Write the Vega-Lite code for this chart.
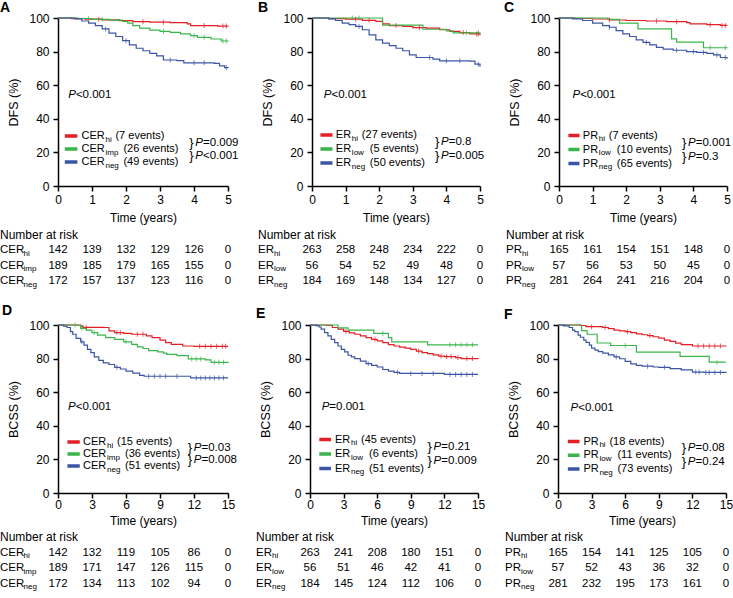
{
"$schema":"https://vega.github.io/schema/vega-lite/v6.json",
"padding":{"left":0,"top":1,"right":0,"bottom":0},
"background":"white",
"config":{"font":"Liberation Sans","view":{"stroke":null},
"axis":{"domainColor":"#000","domainWidth":1.5,"tickColor":"#000","tickWidth":1.5,"tickSize":5,"labelColor":"#000","labelFontSize":12,"titleColor":"#000","titleFontSize":12,"titleFontWeight":"normal","grid":false,"labelFlush":false,"labelOverlap":false},
"axisY":{"labelPadding":4,"titlePadding":8,"titleFontSize":12.5},
"text":{"fontSize":11,"color":"#000"},
"tick":{"orient":"vertical","size":5,"thickness":1}},
"datasets":{
"km":[
{"p":"A","g":"hi","t":0,"s":100},{"p":"A","g":"hi","t":0.4,"s":99.6},{"p":"A","g":"hi","t":0.8,"s":99.3},{"p":"A","g":"hi","t":1.3,"s":98.9},{"p":"A","g":"hi","t":1.8,"s":98.4},{"p":"A","g":"hi","t":2.2,"s":97.8},{"p":"A","g":"hi","t":2.7,"s":97.5},{"p":"A","g":"hi","t":3.3,"s":97.2},{"p":"A","g":"hi","t":3.8,"s":96.5},{"p":"A","g":"hi","t":3.9,"s":95.5},{"p":"A","g":"hi","t":4.7,"s":95.2},{"p":"A","g":"hi","t":5,"s":95},
{"p":"A","g":"mid","t":0,"s":100},{"p":"A","g":"mid","t":0.6,"s":99.7},{"p":"A","g":"mid","t":1.0,"s":99.2},{"p":"A","g":"mid","t":1.5,"s":98.7},{"p":"A","g":"mid","t":1.9,"s":98},{"p":"A","g":"mid","t":2.05,"s":97},{"p":"A","g":"mid","t":2.2,"s":95.5},{"p":"A","g":"mid","t":2.4,"s":94},{"p":"A","g":"mid","t":2.7,"s":92.8},{"p":"A","g":"mid","t":3.0,"s":92},{"p":"A","g":"mid","t":3.3,"s":91.5},{"p":"A","g":"mid","t":3.6,"s":90.5},{"p":"A","g":"mid","t":3.9,"s":89.5},{"p":"A","g":"mid","t":4.1,"s":88.5},{"p":"A","g":"mid","t":4.5,"s":87.5},{"p":"A","g":"mid","t":4.8,"s":86.3},{"p":"A","g":"mid","t":5,"s":86},
{"p":"A","g":"neg","t":0,"s":100},{"p":"A","g":"neg","t":0.5,"s":99.5},{"p":"A","g":"neg","t":0.7,"s":98.2},{"p":"A","g":"neg","t":0.9,"s":97},{"p":"A","g":"neg","t":1.1,"s":95.5},{"p":"A","g":"neg","t":1.3,"s":93.5},{"p":"A","g":"neg","t":1.5,"s":91},{"p":"A","g":"neg","t":1.7,"s":89},{"p":"A","g":"neg","t":1.9,"s":86.5},{"p":"A","g":"neg","t":2.1,"s":84},{"p":"A","g":"neg","t":2.3,"s":82},{"p":"A","g":"neg","t":2.5,"s":80.5},{"p":"A","g":"neg","t":2.7,"s":79},{"p":"A","g":"neg","t":2.9,"s":77.5},{"p":"A","g":"neg","t":3.1,"s":75},{"p":"A","g":"neg","t":3.5,"s":74.6},{"p":"A","g":"neg","t":3.7,"s":73.3},{"p":"A","g":"neg","t":4.6,"s":73},{"p":"A","g":"neg","t":4.75,"s":71.5},{"p":"A","g":"neg","t":4.9,"s":70.5},{"p":"A","g":"neg","t":5,"s":70.2},
{"p":"B","g":"hi","t":0,"s":100},{"p":"B","g":"hi","t":0.5,"s":99.6},{"p":"B","g":"hi","t":1.0,"s":99.3},{"p":"B","g":"hi","t":1.5,"s":98.6},{"p":"B","g":"hi","t":1.9,"s":98},{"p":"B","g":"hi","t":2.1,"s":96.5},{"p":"B","g":"hi","t":2.3,"s":95.5},{"p":"B","g":"hi","t":2.7,"s":95},{"p":"B","g":"hi","t":3.0,"s":94.3},{"p":"B","g":"hi","t":3.4,"s":94},{"p":"B","g":"hi","t":3.8,"s":93},{"p":"B","g":"hi","t":4.1,"s":92},{"p":"B","g":"hi","t":4.4,"s":91.3},{"p":"B","g":"hi","t":4.7,"s":90.5},{"p":"B","g":"hi","t":5,"s":89.7},
{"p":"B","g":"mid","t":0,"s":100},{"p":"B","g":"mid","t":2.1,"s":95.8},{"p":"B","g":"mid","t":3.3,"s":93.3},{"p":"B","g":"mid","t":4.0,"s":92.3},{"p":"B","g":"mid","t":4.2,"s":91.2},{"p":"B","g":"mid","t":5,"s":91},
{"p":"B","g":"neg","t":0,"s":100},{"p":"B","g":"neg","t":0.5,"s":99.5},{"p":"B","g":"neg","t":0.7,"s":98.5},{"p":"B","g":"neg","t":0.9,"s":97},{"p":"B","g":"neg","t":1.1,"s":96},{"p":"B","g":"neg","t":1.3,"s":95},{"p":"B","g":"neg","t":1.5,"s":93},{"p":"B","g":"neg","t":1.7,"s":90},{"p":"B","g":"neg","t":1.9,"s":87},{"p":"B","g":"neg","t":2.1,"s":85},{"p":"B","g":"neg","t":2.3,"s":83.5},{"p":"B","g":"neg","t":2.5,"s":82},{"p":"B","g":"neg","t":2.7,"s":80.5},{"p":"B","g":"neg","t":2.9,"s":78},{"p":"B","g":"neg","t":3.1,"s":76.5},{"p":"B","g":"neg","t":3.6,"s":75.5},{"p":"B","g":"neg","t":3.8,"s":74.5},{"p":"B","g":"neg","t":4.7,"s":74.3},{"p":"B","g":"neg","t":4.85,"s":72.5},{"p":"B","g":"neg","t":5,"s":71},
{"p":"C","g":"hi","t":0,"s":100},{"p":"C","g":"hi","t":0.5,"s":99.7},{"p":"C","g":"hi","t":1.0,"s":99.4},{"p":"C","g":"hi","t":1.5,"s":98.8},{"p":"C","g":"hi","t":2.0,"s":98.5},{"p":"C","g":"hi","t":2.6,"s":98.2},{"p":"C","g":"hi","t":3.2,"s":97.8},{"p":"C","g":"hi","t":3.8,"s":97.3},{"p":"C","g":"hi","t":3.9,"s":96.5},{"p":"C","g":"hi","t":4.4,"s":96},{"p":"C","g":"hi","t":4.8,"s":95.6},{"p":"C","g":"hi","t":5,"s":95.5},
{"p":"C","g":"mid","t":0,"s":100},{"p":"C","g":"mid","t":1.45,"s":99.2},{"p":"C","g":"mid","t":1.8,"s":97},{"p":"C","g":"mid","t":2.35,"s":93.5},{"p":"C","g":"mid","t":3.35,"s":87.6},{"p":"C","g":"mid","t":3.5,"s":85.6},{"p":"C","g":"mid","t":4.3,"s":82.3},{"p":"C","g":"mid","t":5,"s":82},
{"p":"C","g":"neg","t":0,"s":100},{"p":"C","g":"neg","t":0.4,"s":99.5},{"p":"C","g":"neg","t":0.7,"s":98.5},{"p":"C","g":"neg","t":1.0,"s":97},{"p":"C","g":"neg","t":1.3,"s":95.5},{"p":"C","g":"neg","t":1.5,"s":94.5},{"p":"C","g":"neg","t":1.7,"s":92.5},{"p":"C","g":"neg","t":1.9,"s":90.5},{"p":"C","g":"neg","t":2.1,"s":89},{"p":"C","g":"neg","t":2.3,"s":87},{"p":"C","g":"neg","t":2.5,"s":85.5},{"p":"C","g":"neg","t":2.7,"s":84},{"p":"C","g":"neg","t":2.9,"s":82.5},{"p":"C","g":"neg","t":3.1,"s":81.5},{"p":"C","g":"neg","t":3.4,"s":80.8},{"p":"C","g":"neg","t":3.8,"s":80},{"p":"C","g":"neg","t":4.1,"s":79.5},{"p":"C","g":"neg","t":4.4,"s":79},{"p":"C","g":"neg","t":4.6,"s":78},{"p":"C","g":"neg","t":4.8,"s":76.5},{"p":"C","g":"neg","t":5,"s":75.8},
{"p":"D","g":"hi","t":0,"s":100},{"p":"D","g":"hi","t":2.0,"s":99.5},{"p":"D","g":"hi","t":2.2,"s":98.6},{"p":"D","g":"hi","t":4.0,"s":98.5},{"p":"D","g":"hi","t":4.5,"s":96.5},{"p":"D","g":"hi","t":5.0,"s":95.5},{"p":"D","g":"hi","t":5.8,"s":95},{"p":"D","g":"hi","t":6.5,"s":94.5},{"p":"D","g":"hi","t":7.8,"s":93.5},{"p":"D","g":"hi","t":8.3,"s":92.5},{"p":"D","g":"hi","t":9.0,"s":91},{"p":"D","g":"hi","t":9.5,"s":89.5},{"p":"D","g":"hi","t":10.0,"s":88.5},{"p":"D","g":"hi","t":11.0,"s":87.5},{"p":"D","g":"hi","t":12,"s":87.3},{"p":"D","g":"hi","t":15,"s":87.3},
{"p":"D","g":"mid","t":0,"s":100},{"p":"D","g":"mid","t":1.8,"s":99.7},{"p":"D","g":"mid","t":2.0,"s":98},{"p":"D","g":"mid","t":2.5,"s":97},{"p":"D","g":"mid","t":3.0,"s":95.5},{"p":"D","g":"mid","t":3.5,"s":94},{"p":"D","g":"mid","t":4.2,"s":92.5},{"p":"D","g":"mid","t":5.0,"s":91.5},{"p":"D","g":"mid","t":5.8,"s":90},{"p":"D","g":"mid","t":6.5,"s":88.5},{"p":"D","g":"mid","t":7.0,"s":87},{"p":"D","g":"mid","t":7.5,"s":86},{"p":"D","g":"mid","t":8.0,"s":84.8},{"p":"D","g":"mid","t":8.8,"s":84},{"p":"D","g":"mid","t":9.3,"s":83.2},{"p":"D","g":"mid","t":9.6,"s":82.5},{"p":"D","g":"mid","t":10.5,"s":81.8},{"p":"D","g":"mid","t":11.5,"s":79.8},{"p":"D","g":"mid","t":13.0,"s":79.3},{"p":"D","g":"mid","t":13.5,"s":77.8},{"p":"D","g":"mid","t":15,"s":77.3},
{"p":"D","g":"neg","t":0,"s":100},{"p":"D","g":"neg","t":0.5,"s":99.3},{"p":"D","g":"neg","t":0.8,"s":98.5},{"p":"D","g":"neg","t":1.1,"s":96},{"p":"D","g":"neg","t":1.3,"s":94.5},{"p":"D","g":"neg","t":1.6,"s":92},{"p":"D","g":"neg","t":2.0,"s":90},{"p":"D","g":"neg","t":2.3,"s":88},{"p":"D","g":"neg","t":2.6,"s":85.5},{"p":"D","g":"neg","t":2.9,"s":83.5},{"p":"D","g":"neg","t":3.2,"s":81},{"p":"D","g":"neg","t":3.6,"s":79},{"p":"D","g":"neg","t":4.0,"s":77.5},{"p":"D","g":"neg","t":4.5,"s":76.5},{"p":"D","g":"neg","t":5.0,"s":74.8},{"p":"D","g":"neg","t":5.5,"s":73.8},{"p":"D","g":"neg","t":6.0,"s":72.5},{"p":"D","g":"neg","t":6.6,"s":71.3},{"p":"D","g":"neg","t":7.2,"s":70},{"p":"D","g":"neg","t":7.6,"s":69.5},{"p":"D","g":"neg","t":11.7,"s":68.5},{"p":"D","g":"neg","t":15,"s":68.5},
{"p":"E","g":"hi","t":0,"s":100},{"p":"E","g":"hi","t":1.5,"s":99.8},{"p":"E","g":"hi","t":2.0,"s":98.5},{"p":"E","g":"hi","t":2.5,"s":97.5},{"p":"E","g":"hi","t":3.0,"s":96.2},{"p":"E","g":"hi","t":3.5,"s":95.3},{"p":"E","g":"hi","t":4.0,"s":94.5},{"p":"E","g":"hi","t":4.5,"s":93.5},{"p":"E","g":"hi","t":5.0,"s":92.5},{"p":"E","g":"hi","t":5.5,"s":91.5},{"p":"E","g":"hi","t":6.0,"s":90.5},{"p":"E","g":"hi","t":6.5,"s":89.5},{"p":"E","g":"hi","t":7.0,"s":88.3},{"p":"E","g":"hi","t":7.5,"s":87.5},{"p":"E","g":"hi","t":8.0,"s":86.8},{"p":"E","g":"hi","t":8.5,"s":86.2},{"p":"E","g":"hi","t":9.0,"s":85.5},{"p":"E","g":"hi","t":9.5,"s":84.5},{"p":"E","g":"hi","t":10.0,"s":83.6},{"p":"E","g":"hi","t":10.5,"s":83},{"p":"E","g":"hi","t":11.0,"s":82.2},{"p":"E","g":"hi","t":11.5,"s":81.5},{"p":"E","g":"hi","t":12.0,"s":81.2},{"p":"E","g":"hi","t":13.0,"s":80.6},{"p":"E","g":"hi","t":13.5,"s":80},{"p":"E","g":"hi","t":15,"s":79.8},
{"p":"E","g":"mid","t":0,"s":100},{"p":"E","g":"mid","t":2.5,"s":98.3},{"p":"E","g":"mid","t":3.4,"s":97},{"p":"E","g":"mid","t":5.7,"s":95},{"p":"E","g":"mid","t":7.0,"s":92.5},{"p":"E","g":"mid","t":7.3,"s":90},{"p":"E","g":"mid","t":10.5,"s":88.2},{"p":"E","g":"mid","t":15,"s":88.2},
{"p":"E","g":"neg","t":0,"s":100},{"p":"E","g":"neg","t":0.5,"s":99.6},{"p":"E","g":"neg","t":0.8,"s":98.8},{"p":"E","g":"neg","t":1.0,"s":97.5},{"p":"E","g":"neg","t":1.3,"s":95.5},{"p":"E","g":"neg","t":1.6,"s":93.5},{"p":"E","g":"neg","t":1.9,"s":91.5},{"p":"E","g":"neg","t":2.2,"s":89.5},{"p":"E","g":"neg","t":2.5,"s":87.5},{"p":"E","g":"neg","t":2.8,"s":85.5},{"p":"E","g":"neg","t":3.1,"s":84},{"p":"E","g":"neg","t":3.4,"s":82},{"p":"E","g":"neg","t":3.7,"s":81},{"p":"E","g":"neg","t":4.0,"s":80},{"p":"E","g":"neg","t":4.5,"s":78.5},{"p":"E","g":"neg","t":5.0,"s":77},{"p":"E","g":"neg","t":5.5,"s":76},{"p":"E","g":"neg","t":6.0,"s":75},{"p":"E","g":"neg","t":6.5,"s":73.5},{"p":"E","g":"neg","t":7.0,"s":72.5},{"p":"E","g":"neg","t":7.5,"s":71.8},{"p":"E","g":"neg","t":8.0,"s":71.2},{"p":"E","g":"neg","t":12,"s":70.6},{"p":"E","g":"neg","t":15,"s":70.6},
{"p":"F","g":"hi","t":0,"s":100},{"p":"F","g":"hi","t":2.0,"s":99.7},{"p":"F","g":"hi","t":2.5,"s":99},{"p":"F","g":"hi","t":4.0,"s":98.5},{"p":"F","g":"hi","t":4.5,"s":97.8},{"p":"F","g":"hi","t":5.0,"s":97},{"p":"F","g":"hi","t":5.5,"s":96.5},{"p":"F","g":"hi","t":6.0,"s":96},{"p":"F","g":"hi","t":6.5,"s":95.5},{"p":"F","g":"hi","t":7.0,"s":94.7},{"p":"F","g":"hi","t":7.5,"s":94.2},{"p":"F","g":"hi","t":8.0,"s":93.7},{"p":"F","g":"hi","t":8.5,"s":93},{"p":"F","g":"hi","t":9.0,"s":92.2},{"p":"F","g":"hi","t":9.5,"s":91},{"p":"F","g":"hi","t":10.0,"s":90.2},{"p":"F","g":"hi","t":10.5,"s":89.2},{"p":"F","g":"hi","t":11.0,"s":88.3},{"p":"F","g":"hi","t":12.0,"s":87.5},{"p":"F","g":"hi","t":15,"s":87.3},
{"p":"F","g":"mid","t":0,"s":100},{"p":"F","g":"mid","t":2.1,"s":96.6},{"p":"F","g":"mid","t":2.6,"s":94.5},{"p":"F","g":"mid","t":3.5,"s":89.3},{"p":"F","g":"mid","t":4.7,"s":87.8},{"p":"F","g":"mid","t":7.0,"s":83.8},{"p":"F","g":"mid","t":10.9,"s":81.3},{"p":"F","g":"mid","t":13.5,"s":77.9},{"p":"F","g":"mid","t":15,"s":77.9},
{"p":"F","g":"neg","t":0,"s":100},{"p":"F","g":"neg","t":0.5,"s":99.5},{"p":"F","g":"neg","t":1.0,"s":98.5},{"p":"F","g":"neg","t":1.3,"s":97},{"p":"F","g":"neg","t":1.5,"s":96},{"p":"F","g":"neg","t":1.8,"s":94},{"p":"F","g":"neg","t":2.0,"s":92.7},{"p":"F","g":"neg","t":2.3,"s":91},{"p":"F","g":"neg","t":2.5,"s":89.7},{"p":"F","g":"neg","t":2.8,"s":88},{"p":"F","g":"neg","t":3.0,"s":86.2},{"p":"F","g":"neg","t":3.3,"s":85},{"p":"F","g":"neg","t":3.6,"s":84.2},{"p":"F","g":"neg","t":4.0,"s":83.2},{"p":"F","g":"neg","t":4.5,"s":82.2},{"p":"F","g":"neg","t":5.0,"s":81},{"p":"F","g":"neg","t":5.5,"s":79.9},{"p":"F","g":"neg","t":6.0,"s":78.3},{"p":"F","g":"neg","t":6.5,"s":76.9},{"p":"F","g":"neg","t":7.0,"s":76},{"p":"F","g":"neg","t":7.5,"s":75.5},{"p":"F","g":"neg","t":8.5,"s":75},{"p":"F","g":"neg","t":9.0,"s":74.8},{"p":"F","g":"neg","t":10.0,"s":74},{"p":"F","g":"neg","t":11.0,"s":73.3},{"p":"F","g":"neg","t":12.0,"s":72},{"p":"F","g":"neg","t":13,"s":71.8},{"p":"F","g":"neg","t":15,"s":71.5}
],
"cens":[
{"p":"A","g":"hi","t":1.2,"s":99.3},{"p":"A","g":"hi","t":2.5,"s":97.8},{"p":"A","g":"hi","t":3.1,"s":97.5},{"p":"A","g":"hi","t":4.3,"s":95.5},{"p":"A","g":"hi","t":4.85,"s":95.2},{"p":"A","g":"hi","t":4.95,"s":95.2},
{"p":"A","g":"mid","t":0.9,"s":99.7},{"p":"A","g":"mid","t":1.3,"s":99.2},{"p":"A","g":"mid","t":3.1,"s":92},{"p":"A","g":"mid","t":4.0,"s":89.5},{"p":"A","g":"mid","t":4.3,"s":88.5},{"p":"A","g":"mid","t":4.85,"s":86.3},{"p":"A","g":"mid","t":4.95,"s":86.3},
{"p":"A","g":"neg","t":1.4,"s":93.5},{"p":"A","g":"neg","t":2.0,"s":86.5},{"p":"A","g":"neg","t":3.3,"s":75},{"p":"A","g":"neg","t":4.0,"s":73.3},{"p":"A","g":"neg","t":4.3,"s":73.3},{"p":"A","g":"neg","t":4.95,"s":70.5},
{"p":"B","g":"hi","t":1.3,"s":99.3},{"p":"B","g":"hi","t":1.7,"s":98.6},{"p":"B","g":"hi","t":2.5,"s":95.5},{"p":"B","g":"hi","t":3.2,"s":94.3},{"p":"B","g":"hi","t":4.5,"s":91.3},{"p":"B","g":"hi","t":4.9,"s":90.5},{"p":"B","g":"hi","t":4.95,"s":90.5},
{"p":"B","g":"mid","t":1.2,"s":100},{"p":"B","g":"mid","t":1.4,"s":100},{"p":"B","g":"mid","t":4.6,"s":91.2},{"p":"B","g":"mid","t":4.95,"s":91.2},
{"p":"B","g":"neg","t":1.4,"s":95},{"p":"B","g":"neg","t":3.5,"s":76.5},{"p":"B","g":"neg","t":4.0,"s":74.5},{"p":"B","g":"neg","t":4.4,"s":74.5},{"p":"B","g":"neg","t":4.95,"s":72.5},
{"p":"C","g":"hi","t":1.5,"s":98.8},{"p":"C","g":"hi","t":2.9,"s":98.2},{"p":"C","g":"hi","t":3.5,"s":97.8},{"p":"C","g":"hi","t":4.5,"s":96},{"p":"C","g":"hi","t":4.85,"s":95.6},{"p":"C","g":"hi","t":4.95,"s":95.6},
{"p":"C","g":"mid","t":4.5,"s":82.3},{"p":"C","g":"mid","t":4.95,"s":82.3},
{"p":"C","g":"neg","t":1.5,"s":94.5},{"p":"C","g":"neg","t":2.6,"s":85.5},{"p":"C","g":"neg","t":3.5,"s":80.8},{"p":"C","g":"neg","t":4.0,"s":80},{"p":"C","g":"neg","t":4.3,"s":79.5},{"p":"C","g":"neg","t":4.7,"s":78},{"p":"C","g":"neg","t":4.95,"s":76.5},
{"p":"D","g":"hi","t":2.5,"s":98.6},{"p":"D","g":"hi","t":5.2,"s":95.5},{"p":"D","g":"hi","t":5.5,"s":95.5},{"p":"D","g":"hi","t":7.0,"s":94.5},{"p":"D","g":"hi","t":7.5,"s":94.5},{"p":"D","g":"hi","t":12.5,"s":87.3},{"p":"D","g":"hi","t":13,"s":87.3},{"p":"D","g":"hi","t":13.5,"s":87.3},{"p":"D","g":"hi","t":14,"s":87.3},{"p":"D","g":"hi","t":14.5,"s":87.3},{"p":"D","g":"hi","t":14.8,"s":87.3},
{"p":"D","g":"mid","t":1.5,"s":100},{"p":"D","g":"mid","t":2.1,"s":98},{"p":"D","g":"mid","t":3.2,"s":95.5},{"p":"D","g":"mid","t":6.0,"s":90},{"p":"D","g":"mid","t":11.8,"s":79.8},{"p":"D","g":"mid","t":12.2,"s":79.8},{"p":"D","g":"mid","t":12.6,"s":79.8},{"p":"D","g":"mid","t":13.8,"s":77.8},{"p":"D","g":"mid","t":14.2,"s":77.8},{"p":"D","g":"mid","t":14.6,"s":77.8},
{"p":"D","g":"neg","t":2.1,"s":90},{"p":"D","g":"neg","t":5.2,"s":74.8},{"p":"D","g":"neg","t":8,"s":69.5},{"p":"D","g":"neg","t":8.5,"s":69.5},{"p":"D","g":"neg","t":9,"s":69.5},{"p":"D","g":"neg","t":9.5,"s":69.5},{"p":"D","g":"neg","t":10.5,"s":69.5},{"p":"D","g":"neg","t":12.2,"s":68.5},{"p":"D","g":"neg","t":12.6,"s":68.5},{"p":"D","g":"neg","t":13,"s":68.5},{"p":"D","g":"neg","t":13.4,"s":68.5},{"p":"D","g":"neg","t":13.8,"s":68.5},{"p":"D","g":"neg","t":14.2,"s":68.5},{"p":"D","g":"neg","t":14.6,"s":68.5},
{"p":"E","g":"hi","t":3.2,"s":96.2},{"p":"E","g":"hi","t":5.8,"s":91.5},{"p":"E","g":"hi","t":9.7,"s":84.5},{"p":"E","g":"hi","t":11.7,"s":81.5},{"p":"E","g":"hi","t":12.2,"s":81.2},{"p":"E","g":"hi","t":12.6,"s":81.2},{"p":"E","g":"hi","t":13.2,"s":80.6},{"p":"E","g":"hi","t":14,"s":80},{"p":"E","g":"hi","t":14.5,"s":80},
{"p":"E","g":"mid","t":6.5,"s":95},{"p":"E","g":"mid","t":12.5,"s":88.2},{"p":"E","g":"mid","t":13,"s":88.2},{"p":"E","g":"mid","t":13.5,"s":88.2},{"p":"E","g":"mid","t":14,"s":88.2},{"p":"E","g":"mid","t":14.5,"s":88.2},
{"p":"E","g":"neg","t":5.2,"s":77},{"p":"E","g":"neg","t":7.8,"s":71.8},{"p":"E","g":"neg","t":9,"s":71.2},{"p":"E","g":"neg","t":10,"s":71.2},{"p":"E","g":"neg","t":11,"s":71.2},{"p":"E","g":"neg","t":12.5,"s":70.6},{"p":"E","g":"neg","t":13,"s":70.6},{"p":"E","g":"neg","t":13.5,"s":70.6},{"p":"E","g":"neg","t":14,"s":70.6},{"p":"E","g":"neg","t":14.5,"s":70.6},
{"p":"F","g":"hi","t":3,"s":99},{"p":"F","g":"hi","t":4.2,"s":98.5},{"p":"F","g":"hi","t":6.2,"s":96},{"p":"F","g":"hi","t":8.2,"s":93.7},{"p":"F","g":"hi","t":12.5,"s":87.5},{"p":"F","g":"hi","t":13,"s":87.5},{"p":"F","g":"hi","t":13.5,"s":87.5},{"p":"F","g":"hi","t":14,"s":87.5},{"p":"F","g":"hi","t":14.5,"s":87.5},
{"p":"F","g":"mid","t":6,"s":87.8},{"p":"F","g":"mid","t":14.2,"s":77.9},
{"p":"F","g":"neg","t":5.2,"s":81},{"p":"F","g":"neg","t":8,"s":75.5},{"p":"F","g":"neg","t":9.5,"s":74.8},{"p":"F","g":"neg","t":12.3,"s":72},{"p":"F","g":"neg","t":12.6,"s":72},{"p":"F","g":"neg","t":13.2,"s":71.8},{"p":"F","g":"neg","t":13.5,"s":71.8},{"p":"F","g":"neg","t":14,"s":71.8},{"p":"F","g":"neg","t":14.5,"s":71.8}
],
"risk":[
{"p":"A","g":"hi","t":0,"n":142},{"p":"A","g":"hi","t":1,"n":139},{"p":"A","g":"hi","t":2,"n":132},{"p":"A","g":"hi","t":3,"n":129},{"p":"A","g":"hi","t":4,"n":126},{"p":"A","g":"hi","t":5,"n":0},
{"p":"A","g":"mid","t":0,"n":189},{"p":"A","g":"mid","t":1,"n":185},{"p":"A","g":"mid","t":2,"n":179},{"p":"A","g":"mid","t":3,"n":165},{"p":"A","g":"mid","t":4,"n":155},{"p":"A","g":"mid","t":5,"n":0},
{"p":"A","g":"neg","t":0,"n":172},{"p":"A","g":"neg","t":1,"n":157},{"p":"A","g":"neg","t":2,"n":137},{"p":"A","g":"neg","t":3,"n":123},{"p":"A","g":"neg","t":4,"n":116},{"p":"A","g":"neg","t":5,"n":0},
{"p":"B","g":"hi","t":0,"n":263},{"p":"B","g":"hi","t":1,"n":258},{"p":"B","g":"hi","t":2,"n":248},{"p":"B","g":"hi","t":3,"n":234},{"p":"B","g":"hi","t":4,"n":222},{"p":"B","g":"hi","t":5,"n":0},
{"p":"B","g":"mid","t":0,"n":56},{"p":"B","g":"mid","t":1,"n":54},{"p":"B","g":"mid","t":2,"n":52},{"p":"B","g":"mid","t":3,"n":49},{"p":"B","g":"mid","t":4,"n":48},{"p":"B","g":"mid","t":5,"n":0},
{"p":"B","g":"neg","t":0,"n":184},{"p":"B","g":"neg","t":1,"n":169},{"p":"B","g":"neg","t":2,"n":148},{"p":"B","g":"neg","t":3,"n":134},{"p":"B","g":"neg","t":4,"n":127},{"p":"B","g":"neg","t":5,"n":0},
{"p":"C","g":"hi","t":0,"n":165},{"p":"C","g":"hi","t":1,"n":161},{"p":"C","g":"hi","t":2,"n":154},{"p":"C","g":"hi","t":3,"n":151},{"p":"C","g":"hi","t":4,"n":148},{"p":"C","g":"hi","t":5,"n":0},
{"p":"C","g":"mid","t":0,"n":57},{"p":"C","g":"mid","t":1,"n":56},{"p":"C","g":"mid","t":2,"n":53},{"p":"C","g":"mid","t":3,"n":50},{"p":"C","g":"mid","t":4,"n":45},{"p":"C","g":"mid","t":5,"n":0},
{"p":"C","g":"neg","t":0,"n":281},{"p":"C","g":"neg","t":1,"n":264},{"p":"C","g":"neg","t":2,"n":241},{"p":"C","g":"neg","t":3,"n":216},{"p":"C","g":"neg","t":4,"n":204},{"p":"C","g":"neg","t":5,"n":0},
{"p":"D","g":"hi","t":0,"n":142},{"p":"D","g":"hi","t":3,"n":132},{"p":"D","g":"hi","t":6,"n":119},{"p":"D","g":"hi","t":9,"n":105},{"p":"D","g":"hi","t":12,"n":86},{"p":"D","g":"hi","t":15,"n":0},
{"p":"D","g":"mid","t":0,"n":189},{"p":"D","g":"mid","t":3,"n":171},{"p":"D","g":"mid","t":6,"n":147},{"p":"D","g":"mid","t":9,"n":126},{"p":"D","g":"mid","t":12,"n":115},{"p":"D","g":"mid","t":15,"n":0},
{"p":"D","g":"neg","t":0,"n":172},{"p":"D","g":"neg","t":3,"n":134},{"p":"D","g":"neg","t":6,"n":113},{"p":"D","g":"neg","t":9,"n":102},{"p":"D","g":"neg","t":12,"n":94},{"p":"D","g":"neg","t":15,"n":0},
{"p":"E","g":"hi","t":0,"n":263},{"p":"E","g":"hi","t":3,"n":241},{"p":"E","g":"hi","t":6,"n":208},{"p":"E","g":"hi","t":9,"n":180},{"p":"E","g":"hi","t":12,"n":151},{"p":"E","g":"hi","t":15,"n":0},
{"p":"E","g":"mid","t":0,"n":56},{"p":"E","g":"mid","t":3,"n":51},{"p":"E","g":"mid","t":6,"n":46},{"p":"E","g":"mid","t":9,"n":42},{"p":"E","g":"mid","t":12,"n":41},{"p":"E","g":"mid","t":15,"n":0},
{"p":"E","g":"neg","t":0,"n":184},{"p":"E","g":"neg","t":3,"n":145},{"p":"E","g":"neg","t":6,"n":124},{"p":"E","g":"neg","t":9,"n":112},{"p":"E","g":"neg","t":12,"n":106},{"p":"E","g":"neg","t":15,"n":0},
{"p":"F","g":"hi","t":0,"n":165},{"p":"F","g":"hi","t":3,"n":154},{"p":"F","g":"hi","t":6,"n":141},{"p":"F","g":"hi","t":9,"n":125},{"p":"F","g":"hi","t":12,"n":105},{"p":"F","g":"hi","t":15,"n":0},
{"p":"F","g":"mid","t":0,"n":57},{"p":"F","g":"mid","t":3,"n":52},{"p":"F","g":"mid","t":6,"n":43},{"p":"F","g":"mid","t":9,"n":36},{"p":"F","g":"mid","t":12,"n":32},{"p":"F","g":"mid","t":15,"n":0},
{"p":"F","g":"neg","t":0,"n":281},{"p":"F","g":"neg","t":3,"n":232},{"p":"F","g":"neg","t":6,"n":195},{"p":"F","g":"neg","t":9,"n":173},{"p":"F","g":"neg","t":12,"n":161},{"p":"F","g":"neg","t":15,"n":0}
],
"leg":[
{"p":"A","g":"hi","b":"CER","s":"hi","e":"(7 events)"},{"p":"A","g":"mid","b":"CER","s":"imp","e":"(26 events)"},{"p":"A","g":"neg","b":"CER","s":"neg","e":"(49 events)"},
{"p":"B","g":"hi","b":"ER","s":"hi","e":"(27 events)"},{"p":"B","g":"mid","b":"ER","s":"low","e":"(5 events)"},{"p":"B","g":"neg","b":"ER","s":"neg","e":"(50 events)"},
{"p":"C","g":"hi","b":"PR","s":"hi","e":"(7 events)"},{"p":"C","g":"mid","b":"PR","s":"low","e":"(10 events)"},{"p":"C","g":"neg","b":"PR","s":"neg","e":"(65 events)"},
{"p":"D","g":"hi","b":"CER","s":"hi","e":"(15 events)"},{"p":"D","g":"mid","b":"CER","s":"imp","e":"(36 events)"},{"p":"D","g":"neg","b":"CER","s":"neg","e":"(51 events)"},
{"p":"E","g":"hi","b":"ER","s":"hi","e":"(45 events)"},{"p":"E","g":"mid","b":"ER","s":"low","e":"(6 events)"},{"p":"E","g":"neg","b":"ER","s":"neg","e":"(51 events)"},
{"p":"F","g":"hi","b":"PR","s":"hi","e":"(18 events)"},{"p":"F","g":"mid","b":"PR","s":"low","e":"(11 events)"},{"p":"F","g":"neg","b":"PR","s":"neg","e":"(73 events)"}
],
"pv":[
{"p":"A","k":"hm","v":"=0.009"},{"p":"A","k":"mn","v":"<0.001"},
{"p":"B","k":"hm","v":"=0.8"},{"p":"B","k":"mn","v":"=0.005"},
{"p":"C","k":"hm","v":"=0.001"},{"p":"C","k":"mn","v":"=0.3"},
{"p":"D","k":"hm","v":"=0.03"},{"p":"D","k":"mn","v":"=0.008"},
{"p":"E","k":"hm","v":"=0.21"},{"p":"E","k":"mn","v":"=0.009"},
{"p":"F","k":"hm","v":"=0.08"},{"p":"F","k":"mn","v":"=0.24"}
]
},
"spacing":15,
"vconcat":[
{"hconcat":[
{"vconcat":[
{"width":170,"height":168,"resolve":{"scale":{"y":"independent"}},"layer":[
{"layer":[
{"data":{"name":"km"},"transform":[{"filter":"datum.p==='A'"}],"mark":{"type":"line","interpolate":"step-after","strokeWidth":1.2},"encoding":{"x":{"field":"t","type":"quantitative","scale":{"domain":[0,5],"nice":false},"axis":{"values":[0,1,2,3,4,5],"format":"d","tickCount":10,"labelOverlap":false,"title":"Time (years)","labelPadding":3.5,"titlePadding":6.5}},"y":{"field":"s","type":"quantitative","scale":{"domain":[0,100],"nice":false},"axis":{"values":[0,20,40,60,80,100],"format":"d","tickCount":10,"labelOverlap":false,"title":"DFS (%)"}},"color":{"field":"g","type":"nominal","scale":{"domain":["hi","mid","neg"],"range":["#e41f26","#3ab54a","#3b55a5"]},"legend":null}}},
{"data":{"name":"cens"},"transform":[{"filter":"datum.p==='A'"}],"mark":{"type":"tick"},"encoding":{"x":{"field":"t","type":"quantitative"},"y":{"field":"s","type":"quantitative"},"color":{"field":"g","type":"nominal","legend":null}}},
{"data":{"values":[{}]},"mark":{"type":"text","text":"A","fontWeight":"bold","fontSize":14,"align":"left","baseline":"alphabetic","dx":-58,"dy":-6},"encoding":{"x":{"datum":0},"y":{"datum":100}}},
{"data":{"values":[{}]},"mark":{"type":"text","text":"P","fontStyle":"italic","fontSize":11.5,"align":"left"},"encoding":{"x":{"datum":0.3},"y":{"datum":54}}},
{"data":{"values":[{}]},"mark":{"type":"text","text":"<0.001","fontSize":11.5,"align":"left","dx":7.7},"encoding":{"x":{"datum":0.3},"y":{"datum":54}}}
]},
{"layer":[
{"data":{"name":"leg"},"transform":[{"filter":"datum.p==='A'"}],"mark":{"type":"rule","strokeWidth":3.5},"encoding":{"x":{"datum":0.2},"x2":{"datum":0.57},"y":{"field":"g","type":"ordinal","scale":{"type":"point","domain":["hi","hm","mid","mn","neg"],"range":[118,144],"padding":0},"axis":null},"color":{"field":"g","type":"nominal","scale":{"domain":["hi","mid","neg"],"range":["#e41f26","#3ab54a","#3b55a5"]},"legend":null}}},
{"data":{"name":"leg"},"transform":[{"filter":"datum.p==='A'"}],"mark":{"type":"text","align":"left"},"encoding":{"x":{"datum":0.69},"y":{"field":"g","type":"ordinal","scale":{"type":"point","domain":["hi","hm","mid","mn","neg"],"range":[118,144],"padding":0},"axis":null},"text":{"field":"b"}}},
{"data":{"name":"leg"},"transform":[{"filter":"datum.p==='A'"}],"mark":{"type":"text","align":"left","dx":24,"dy":3.5,"fontSize":8},"encoding":{"x":{"datum":0.69},"y":{"field":"g","type":"ordinal","scale":{"type":"point","domain":["hi","hm","mid","mn","neg"],"range":[118,144],"padding":0},"axis":null},"text":{"field":"s"}}},
{"data":{"name":"leg"},"transform":[{"filter":"datum.p==='A' && datum.g==='hi'"}],"mark":{"type":"text","align":"left","dx":34},"encoding":{"x":{"datum":0.69},"y":{"field":"g","type":"ordinal","scale":{"type":"point","domain":["hi","hm","mid","mn","neg"],"range":[118,144],"padding":0},"axis":null},"text":{"field":"e"}}},
{"data":{"name":"leg"},"transform":[{"filter":"datum.p==='A' && datum.g!=='hi'"}],"mark":{"type":"text","align":"left","dx":42},"encoding":{"x":{"datum":0.69},"y":{"field":"g","type":"ordinal","scale":{"type":"point","domain":["hi","hm","mid","mn","neg"],"range":[118,144],"padding":0},"axis":null},"text":{"field":"e"}}},
{"data":{"name":"pv"},"transform":[{"filter":"datum.p==='A'"}],"mark":{"type":"text","text":"}","fontSize":13,"align":"left"},"encoding":{"x":{"datum":3.86},"y":{"field":"k","type":"ordinal","scale":{"type":"point","domain":["hi","hm","mid","mn","neg"],"range":[118,144],"padding":0},"axis":null}}},
{"data":{"name":"pv"},"transform":[{"filter":"datum.p==='A'"}],"mark":{"type":"text","text":"P","fontStyle":"italic","fontSize":11.5,"align":"left","dx":6},"encoding":{"x":{"datum":3.86},"y":{"field":"k","type":"ordinal","scale":{"type":"point","domain":["hi","hm","mid","mn","neg"],"range":[118,144],"padding":0},"axis":null}}},
{"data":{"name":"pv"},"transform":[{"filter":"datum.p==='A'"}],"mark":{"type":"text","fontSize":11.5,"align":"left","dx":13.7},"encoding":{"x":{"datum":3.86},"y":{"field":"k","type":"ordinal","scale":{"type":"point","domain":["hi","hm","mid","mn","neg"],"range":[118,144],"padding":0},"axis":null},"text":{"field":"v"}}}
]}
]},
{"width":170,"height":62,"layer":[
{"data":{"name":"risk"},"transform":[{"filter":"datum.p==='A'"}],"mark":{"type":"text","fontSize":11.5},"encoding":{"x":{"field":"t","type":"quantitative","scale":{"domain":[0,5],"nice":false},"axis":null},"y":{"field":"g","type":"ordinal","scale":{"domain":["hdr","hi","mid","neg"]},"axis":null},"text":{"field":"n","type":"quantitative"}}},
{"data":{"values":[{}]},"mark":{"type":"text","text":"Number at risk","align":"left","dx":-58,"fontSize":12},"encoding":{"x":{"datum":0},"y":{"datum":"hdr","type":"ordinal","scale":{"domain":["hdr","hi","mid","neg"]},"axis":null}}},
{"data":{"name":"leg"},"transform":[{"filter":"datum.p==='A'"}],"mark":{"type":"text","align":"left","dx":-58,"fontSize":11.5},"encoding":{"x":{"datum":0},"y":{"field":"g","type":"ordinal","scale":{"domain":["hdr","hi","mid","neg"]},"axis":null},"text":{"field":"b"}}},
{"data":{"name":"leg"},"transform":[{"filter":"datum.p==='A'"}],"mark":{"type":"text","align":"left","dx":-34.5,"dy":3.5,"fontSize":8},"encoding":{"x":{"datum":0},"y":{"field":"g","type":"ordinal","scale":{"domain":["hdr","hi","mid","neg"]},"axis":null},"text":{"field":"s"}}}
]}
],"spacing":4},
{"vconcat":[
{"width":168,"height":168,"resolve":{"scale":{"y":"independent"}},"layer":[
{"layer":[
{"data":{"name":"km"},"transform":[{"filter":"datum.p==='B'"}],"mark":{"type":"line","interpolate":"step-after","strokeWidth":1.2},"encoding":{"x":{"field":"t","type":"quantitative","scale":{"domain":[0,5],"nice":false},"axis":{"values":[0,1,2,3,4,5],"format":"d","tickCount":10,"labelOverlap":false,"title":"Time (years)","labelPadding":3.5,"titlePadding":6.5}},"y":{"field":"s","type":"quantitative","scale":{"domain":[0,100],"nice":false},"axis":{"values":[0,20,40,60,80,100],"format":"d","tickCount":10,"labelOverlap":false,"title":"DFS (%)"}},"color":{"field":"g","type":"nominal","scale":{"domain":["hi","mid","neg"],"range":["#e41f26","#3ab54a","#3b55a5"]},"legend":null}}},
{"data":{"name":"cens"},"transform":[{"filter":"datum.p==='B'"}],"mark":{"type":"tick"},"encoding":{"x":{"field":"t","type":"quantitative"},"y":{"field":"s","type":"quantitative"},"color":{"field":"g","type":"nominal","legend":null}}},
{"data":{"values":[{}]},"mark":{"type":"text","text":"B","fontWeight":"bold","fontSize":14,"align":"left","baseline":"alphabetic","dx":-54,"dy":-6},"encoding":{"x":{"datum":0},"y":{"datum":100}}},
{"data":{"values":[{}]},"mark":{"type":"text","text":"P","fontStyle":"italic","fontSize":11.5,"align":"left"},"encoding":{"x":{"datum":0.35},"y":{"datum":54.2}}},
{"data":{"values":[{}]},"mark":{"type":"text","text":"<0.001","fontSize":11.5,"align":"left","dx":7.7},"encoding":{"x":{"datum":0.35},"y":{"datum":54.2}}}
]},
{"layer":[
{"data":{"name":"leg"},"transform":[{"filter":"datum.p==='B'"}],"mark":{"type":"rule","strokeWidth":3.5},"encoding":{"x":{"datum":0.25},"x2":{"datum":0.61},"y":{"field":"g","type":"ordinal","scale":{"type":"point","domain":["hi","hm","mid","mn","neg"],"range":[117,145],"padding":0},"axis":null},"color":{"field":"g","type":"nominal","scale":{"domain":["hi","mid","neg"],"range":["#e41f26","#3ab54a","#3b55a5"]},"legend":null}}},
{"data":{"name":"leg"},"transform":[{"filter":"datum.p==='B'"}],"mark":{"type":"text","align":"left"},"encoding":{"x":{"datum":0.71},"y":{"field":"g","type":"ordinal","scale":{"type":"point","domain":["hi","hm","mid","mn","neg"],"range":[117,145],"padding":0},"axis":null},"text":{"field":"b"}}},
{"data":{"name":"leg"},"transform":[{"filter":"datum.p==='B'"}],"mark":{"type":"text","align":"left","dx":16,"dy":3.5,"fontSize":8},"encoding":{"x":{"datum":0.71},"y":{"field":"g","type":"ordinal","scale":{"type":"point","domain":["hi","hm","mid","mn","neg"],"range":[117,145],"padding":0},"axis":null},"text":{"field":"s"}}},
{"data":{"name":"leg"},"transform":[{"filter":"datum.p==='B' && datum.g==='hi'"}],"mark":{"type":"text","align":"left","dx":26},"encoding":{"x":{"datum":0.71},"y":{"field":"g","type":"ordinal","scale":{"type":"point","domain":["hi","hm","mid","mn","neg"],"range":[117,145],"padding":0},"axis":null},"text":{"field":"e"}}},
{"data":{"name":"leg"},"transform":[{"filter":"datum.p==='B' && datum.g!=='hi'"}],"mark":{"type":"text","align":"left","dx":34},"encoding":{"x":{"datum":0.71},"y":{"field":"g","type":"ordinal","scale":{"type":"point","domain":["hi","hm","mid","mn","neg"],"range":[117,145],"padding":0},"axis":null},"text":{"field":"e"}}},
{"data":{"name":"pv"},"transform":[{"filter":"datum.p==='B'"}],"mark":{"type":"text","text":"}","fontSize":13,"align":"left"},"encoding":{"x":{"datum":3.66},"y":{"field":"k","type":"ordinal","scale":{"type":"point","domain":["hi","hm","mid","mn","neg"],"range":[117,145],"padding":0},"axis":null}}},
{"data":{"name":"pv"},"transform":[{"filter":"datum.p==='B'"}],"mark":{"type":"text","text":"P","fontStyle":"italic","fontSize":11.5,"align":"left","dx":6},"encoding":{"x":{"datum":3.66},"y":{"field":"k","type":"ordinal","scale":{"type":"point","domain":["hi","hm","mid","mn","neg"],"range":[117,145],"padding":0},"axis":null}}},
{"data":{"name":"pv"},"transform":[{"filter":"datum.p==='B'"}],"mark":{"type":"text","fontSize":11.5,"align":"left","dx":13.7},"encoding":{"x":{"datum":3.66},"y":{"field":"k","type":"ordinal","scale":{"type":"point","domain":["hi","hm","mid","mn","neg"],"range":[117,145],"padding":0},"axis":null},"text":{"field":"v"}}}
]}
]},
{"width":168,"height":62,"layer":[
{"data":{"name":"risk"},"transform":[{"filter":"datum.p==='B'"}],"mark":{"type":"text","fontSize":11.5},"encoding":{"x":{"field":"t","type":"quantitative","scale":{"domain":[0,5],"nice":false},"axis":null},"y":{"field":"g","type":"ordinal","scale":{"domain":["hdr","hi","mid","neg"]},"axis":null},"text":{"field":"n","type":"quantitative"}}},
{"data":{"values":[{}]},"mark":{"type":"text","text":"Number at risk","align":"left","dx":-54,"fontSize":12},"encoding":{"x":{"datum":0},"y":{"datum":"hdr","type":"ordinal","scale":{"domain":["hdr","hi","mid","neg"]},"axis":null}}},
{"data":{"name":"leg"},"transform":[{"filter":"datum.p==='B'"}],"mark":{"type":"text","align":"left","dx":-54,"fontSize":11.5},"encoding":{"x":{"datum":0},"y":{"field":"g","type":"ordinal","scale":{"domain":["hdr","hi","mid","neg"]},"axis":null},"text":{"field":"b"}}},
{"data":{"name":"leg"},"transform":[{"filter":"datum.p==='B'"}],"mark":{"type":"text","align":"left","dx":-38,"dy":3.5,"fontSize":8},"encoding":{"x":{"datum":0},"y":{"field":"g","type":"ordinal","scale":{"domain":["hdr","hi","mid","neg"]},"axis":null},"text":{"field":"s"}}}
]}
],"spacing":4},
{"vconcat":[
{"width":168,"height":168,"resolve":{"scale":{"y":"independent"}},"layer":[
{"layer":[
{"data":{"name":"km"},"transform":[{"filter":"datum.p==='C'"}],"mark":{"type":"line","interpolate":"step-after","strokeWidth":1.2},"encoding":{"x":{"field":"t","type":"quantitative","scale":{"domain":[0,5],"nice":false},"axis":{"values":[0,1,2,3,4,5],"format":"d","tickCount":10,"labelOverlap":false,"title":"Time (years)","labelPadding":3.5,"titlePadding":6.5}},"y":{"field":"s","type":"quantitative","scale":{"domain":[0,100],"nice":false},"axis":{"values":[0,20,40,60,80,100],"format":"d","tickCount":10,"labelOverlap":false,"title":"DFS (%)"}},"color":{"field":"g","type":"nominal","scale":{"domain":["hi","mid","neg"],"range":["#e41f26","#3ab54a","#3b55a5"]},"legend":null}}},
{"data":{"name":"cens"},"transform":[{"filter":"datum.p==='C'"}],"mark":{"type":"tick"},"encoding":{"x":{"field":"t","type":"quantitative"},"y":{"field":"s","type":"quantitative"},"color":{"field":"g","type":"nominal","legend":null}}},
{"data":{"values":[{}]},"mark":{"type":"text","text":"C","fontWeight":"bold","fontSize":14,"align":"left","baseline":"alphabetic","dx":-55,"dy":-6},"encoding":{"x":{"datum":0},"y":{"datum":100}}},
{"data":{"values":[{}]},"mark":{"type":"text","text":"P","fontStyle":"italic","fontSize":11.5,"align":"left"},"encoding":{"x":{"datum":0.4},"y":{"datum":54.3}}},
{"data":{"values":[{}]},"mark":{"type":"text","text":"<0.001","fontSize":11.5,"align":"left","dx":7.7},"encoding":{"x":{"datum":0.4},"y":{"datum":54.3}}}
]},
{"layer":[
{"data":{"name":"leg"},"transform":[{"filter":"datum.p==='C'"}],"mark":{"type":"rule","strokeWidth":3.5},"encoding":{"x":{"datum":0.28},"x2":{"datum":0.61},"y":{"field":"g","type":"ordinal","scale":{"type":"point","domain":["hi","hm","mid","mn","neg"],"range":[117.5,145.5],"padding":0},"axis":null},"color":{"field":"g","type":"nominal","scale":{"domain":["hi","mid","neg"],"range":["#e41f26","#3ab54a","#3b55a5"]},"legend":null}}},
{"data":{"name":"leg"},"transform":[{"filter":"datum.p==='C'"}],"mark":{"type":"text","align":"left"},"encoding":{"x":{"datum":0.71},"y":{"field":"g","type":"ordinal","scale":{"type":"point","domain":["hi","hm","mid","mn","neg"],"range":[117.5,145.5],"padding":0},"axis":null},"text":{"field":"b"}}},
{"data":{"name":"leg"},"transform":[{"filter":"datum.p==='C'"}],"mark":{"type":"text","align":"left","dx":16,"dy":3.5,"fontSize":8},"encoding":{"x":{"datum":0.71},"y":{"field":"g","type":"ordinal","scale":{"type":"point","domain":["hi","hm","mid","mn","neg"],"range":[117.5,145.5],"padding":0},"axis":null},"text":{"field":"s"}}},
{"data":{"name":"leg"},"transform":[{"filter":"datum.p==='C' && datum.g==='hi'"}],"mark":{"type":"text","align":"left","dx":26},"encoding":{"x":{"datum":0.71},"y":{"field":"g","type":"ordinal","scale":{"type":"point","domain":["hi","hm","mid","mn","neg"],"range":[117.5,145.5],"padding":0},"axis":null},"text":{"field":"e"}}},
{"data":{"name":"leg"},"transform":[{"filter":"datum.p==='C' && datum.g!=='hi'"}],"mark":{"type":"text","align":"left","dx":34},"encoding":{"x":{"datum":0.71},"y":{"field":"g","type":"ordinal","scale":{"type":"point","domain":["hi","hm","mid","mn","neg"],"range":[117.5,145.5],"padding":0},"axis":null},"text":{"field":"e"}}},
{"data":{"name":"pv"},"transform":[{"filter":"datum.p==='C'"}],"mark":{"type":"text","text":"}","fontSize":13,"align":"left"},"encoding":{"x":{"datum":3.66},"y":{"field":"k","type":"ordinal","scale":{"type":"point","domain":["hi","hm","mid","mn","neg"],"range":[117.5,145.5],"padding":0},"axis":null}}},
{"data":{"name":"pv"},"transform":[{"filter":"datum.p==='C'"}],"mark":{"type":"text","text":"P","fontStyle":"italic","fontSize":11.5,"align":"left","dx":6},"encoding":{"x":{"datum":3.66},"y":{"field":"k","type":"ordinal","scale":{"type":"point","domain":["hi","hm","mid","mn","neg"],"range":[117.5,145.5],"padding":0},"axis":null}}},
{"data":{"name":"pv"},"transform":[{"filter":"datum.p==='C'"}],"mark":{"type":"text","fontSize":11.5,"align":"left","dx":13.7},"encoding":{"x":{"datum":3.66},"y":{"field":"k","type":"ordinal","scale":{"type":"point","domain":["hi","hm","mid","mn","neg"],"range":[117.5,145.5],"padding":0},"axis":null},"text":{"field":"v"}}}
]}
]},
{"width":168,"height":62,"layer":[
{"data":{"name":"risk"},"transform":[{"filter":"datum.p==='C'"}],"mark":{"type":"text","fontSize":11.5},"encoding":{"x":{"field":"t","type":"quantitative","scale":{"domain":[0,5],"nice":false},"axis":null},"y":{"field":"g","type":"ordinal","scale":{"domain":["hdr","hi","mid","neg"]},"axis":null},"text":{"field":"n","type":"quantitative"}}},
{"data":{"values":[{}]},"mark":{"type":"text","text":"Number at risk","align":"left","dx":-53,"fontSize":12},"encoding":{"x":{"datum":0},"y":{"datum":"hdr","type":"ordinal","scale":{"domain":["hdr","hi","mid","neg"]},"axis":null}}},
{"data":{"name":"leg"},"transform":[{"filter":"datum.p==='C'"}],"mark":{"type":"text","align":"left","dx":-53,"fontSize":11.5},"encoding":{"x":{"datum":0},"y":{"field":"g","type":"ordinal","scale":{"domain":["hdr","hi","mid","neg"]},"axis":null},"text":{"field":"b"}}},
{"data":{"name":"leg"},"transform":[{"filter":"datum.p==='C'"}],"mark":{"type":"text","align":"left","dx":-37,"dy":3.5,"fontSize":8},"encoding":{"x":{"datum":0},"y":{"field":"g","type":"ordinal","scale":{"domain":["hdr","hi","mid","neg"]},"axis":null},"text":{"field":"s"}}}
]}
],"spacing":4}
],"spacing":19},
{"hconcat":[
{"vconcat":[
{"width":170,"height":168,"resolve":{"scale":{"y":"independent"}},"layer":[
{"layer":[
{"data":{"name":"km"},"transform":[{"filter":"datum.p==='D'"}],"mark":{"type":"line","interpolate":"step-after","strokeWidth":1.2},"encoding":{"x":{"field":"t","type":"quantitative","scale":{"domain":[0,15],"nice":false},"axis":{"values":[0,3,6,9,12,15],"format":"d","tickCount":10,"labelOverlap":false,"title":"Time (years)","labelPadding":1.5,"titlePadding":5}},"y":{"field":"s","type":"quantitative","scale":{"domain":[0,100],"nice":false},"axis":{"values":[0,20,40,60,80,100],"format":"d","tickCount":10,"labelOverlap":false,"title":"BCSS (%)"}},"color":{"field":"g","type":"nominal","scale":{"domain":["hi","mid","neg"],"range":["#e41f26","#3ab54a","#3b55a5"]},"legend":null}}},
{"data":{"name":"cens"},"transform":[{"filter":"datum.p==='D'"}],"mark":{"type":"tick"},"encoding":{"x":{"field":"t","type":"quantitative"},"y":{"field":"s","type":"quantitative"},"color":{"field":"g","type":"nominal","legend":null}}},
{"data":{"values":[{}]},"mark":{"type":"text","text":"D","fontWeight":"bold","fontSize":14,"align":"left","baseline":"alphabetic","dx":-56,"dy":-10},"encoding":{"x":{"datum":0},"y":{"datum":100}}},
{"data":{"values":[{}]},"mark":{"type":"text","text":"P","fontStyle":"italic","fontSize":11.5,"align":"left"},"encoding":{"x":{"datum":0.88},"y":{"datum":51}}},
{"data":{"values":[{}]},"mark":{"type":"text","text":"<0.001","fontSize":11.5,"align":"left","dx":7.7},"encoding":{"x":{"datum":0.88},"y":{"datum":51}}}
]},
{"layer":[
{"data":{"name":"leg"},"transform":[{"filter":"datum.p==='D'"}],"mark":{"type":"rule","strokeWidth":3.5},"encoding":{"x":{"datum":0.83},"x2":{"datum":1.92},"y":{"field":"g","type":"ordinal","scale":{"type":"point","domain":["hi","hm","mid","mn","neg"],"range":[117,141],"padding":0},"axis":null},"color":{"field":"g","type":"nominal","scale":{"domain":["hi","mid","neg"],"range":["#e41f26","#3ab54a","#3b55a5"]},"legend":null}}},
{"data":{"name":"leg"},"transform":[{"filter":"datum.p==='D'"}],"mark":{"type":"text","align":"left"},"encoding":{"x":{"datum":2.21},"y":{"field":"g","type":"ordinal","scale":{"type":"point","domain":["hi","hm","mid","mn","neg"],"range":[117,141],"padding":0},"axis":null},"text":{"field":"b"}}},
{"data":{"name":"leg"},"transform":[{"filter":"datum.p==='D'"}],"mark":{"type":"text","align":"left","dx":24,"dy":3.5,"fontSize":8},"encoding":{"x":{"datum":2.21},"y":{"field":"g","type":"ordinal","scale":{"type":"point","domain":["hi","hm","mid","mn","neg"],"range":[117,141],"padding":0},"axis":null},"text":{"field":"s"}}},
{"data":{"name":"leg"},"transform":[{"filter":"datum.p==='D' && datum.g==='hi'"}],"mark":{"type":"text","align":"left","dx":34},"encoding":{"x":{"datum":2.21},"y":{"field":"g","type":"ordinal","scale":{"type":"point","domain":["hi","hm","mid","mn","neg"],"range":[117,141],"padding":0},"axis":null},"text":{"field":"e"}}},
{"data":{"name":"leg"},"transform":[{"filter":"datum.p==='D' && datum.g!=='hi'"}],"mark":{"type":"text","align":"left","dx":42},"encoding":{"x":{"datum":2.21},"y":{"field":"g","type":"ordinal","scale":{"type":"point","domain":["hi","hm","mid","mn","neg"],"range":[117,141],"padding":0},"axis":null},"text":{"field":"e"}}},
{"data":{"name":"pv"},"transform":[{"filter":"datum.p==='D'"}],"mark":{"type":"text","text":"}","fontSize":13,"align":"left"},"encoding":{"x":{"datum":11.45},"y":{"field":"k","type":"ordinal","scale":{"type":"point","domain":["hi","hm","mid","mn","neg"],"range":[117,141],"padding":0},"axis":null}}},
{"data":{"name":"pv"},"transform":[{"filter":"datum.p==='D'"}],"mark":{"type":"text","text":"P","fontStyle":"italic","fontSize":11.5,"align":"left","dx":6},"encoding":{"x":{"datum":11.45},"y":{"field":"k","type":"ordinal","scale":{"type":"point","domain":["hi","hm","mid","mn","neg"],"range":[117,141],"padding":0},"axis":null}}},
{"data":{"name":"pv"},"transform":[{"filter":"datum.p==='D'"}],"mark":{"type":"text","fontSize":11.5,"align":"left","dx":13.7},"encoding":{"x":{"datum":11.45},"y":{"field":"k","type":"ordinal","scale":{"type":"point","domain":["hi","hm","mid","mn","neg"],"range":[117,141],"padding":0},"axis":null},"text":{"field":"v"}}}
]}
]},
{"width":170,"height":62,"layer":[
{"data":{"name":"risk"},"transform":[{"filter":"datum.p==='D'"}],"mark":{"type":"text","fontSize":11.5},"encoding":{"x":{"field":"t","type":"quantitative","scale":{"domain":[0,15],"nice":false},"axis":null},"y":{"field":"g","type":"ordinal","scale":{"domain":["hdr","hi","mid","neg"]},"axis":null},"text":{"field":"n","type":"quantitative"}}},
{"data":{"values":[{}]},"mark":{"type":"text","text":"Number at risk","align":"left","dx":-58,"fontSize":12},"encoding":{"x":{"datum":0},"y":{"datum":"hdr","type":"ordinal","scale":{"domain":["hdr","hi","mid","neg"]},"axis":null}}},
{"data":{"name":"leg"},"transform":[{"filter":"datum.p==='D'"}],"mark":{"type":"text","align":"left","dx":-58,"fontSize":11.5},"encoding":{"x":{"datum":0},"y":{"field":"g","type":"ordinal","scale":{"domain":["hdr","hi","mid","neg"]},"axis":null},"text":{"field":"b"}}},
{"data":{"name":"leg"},"transform":[{"filter":"datum.p==='D'"}],"mark":{"type":"text","align":"left","dx":-34.5,"dy":3.5,"fontSize":8},"encoding":{"x":{"datum":0},"y":{"field":"g","type":"ordinal","scale":{"domain":["hdr","hi","mid","neg"]},"axis":null},"text":{"field":"s"}}}
]}
],"spacing":2.5},
{"vconcat":[
{"width":168,"height":168,"resolve":{"scale":{"y":"independent"}},"layer":[
{"layer":[
{"data":{"name":"km"},"transform":[{"filter":"datum.p==='E'"}],"mark":{"type":"line","interpolate":"step-after","strokeWidth":1.2},"encoding":{"x":{"field":"t","type":"quantitative","scale":{"domain":[0,15],"nice":false},"axis":{"values":[0,3,6,9,12,15],"format":"d","tickCount":10,"labelOverlap":false,"title":"Time (years)","labelPadding":1.5,"titlePadding":5}},"y":{"field":"s","type":"quantitative","scale":{"domain":[0,100],"nice":false},"axis":{"values":[0,20,40,60,80,100],"format":"d","tickCount":10,"labelOverlap":false,"title":"BCSS (%)"}},"color":{"field":"g","type":"nominal","scale":{"domain":["hi","mid","neg"],"range":["#e41f26","#3ab54a","#3b55a5"]},"legend":null}}},
{"data":{"name":"cens"},"transform":[{"filter":"datum.p==='E'"}],"mark":{"type":"tick"},"encoding":{"x":{"field":"t","type":"quantitative"},"y":{"field":"s","type":"quantitative"},"color":{"field":"g","type":"nominal","legend":null}}},
{"data":{"values":[{}]},"mark":{"type":"text","text":"E","fontWeight":"bold","fontSize":14,"align":"left","baseline":"alphabetic","dx":-54,"dy":-7},"encoding":{"x":{"datum":0},"y":{"datum":100}}},
{"data":{"values":[{}]},"mark":{"type":"text","text":"P","fontStyle":"italic","fontSize":11.5,"align":"left"},"encoding":{"x":{"datum":1.04},"y":{"datum":51}}},
{"data":{"values":[{}]},"mark":{"type":"text","text":"=0.001","fontSize":11.5,"align":"left","dx":7.7},"encoding":{"x":{"datum":1.04},"y":{"datum":51}}}
]},
{"layer":[
{"data":{"name":"leg"},"transform":[{"filter":"datum.p==='E'"}],"mark":{"type":"rule","strokeWidth":3.5},"encoding":{"x":{"datum":0.83},"x2":{"datum":1.87},"y":{"field":"g","type":"ordinal","scale":{"type":"point","domain":["hi","hm","mid","mn","neg"],"range":[114.5,143.5],"padding":0},"axis":null},"color":{"field":"g","type":"nominal","scale":{"domain":["hi","mid","neg"],"range":["#e41f26","#3ab54a","#3b55a5"]},"legend":null}}},
{"data":{"name":"leg"},"transform":[{"filter":"datum.p==='E'"}],"mark":{"type":"text","align":"left"},"encoding":{"x":{"datum":2.23},"y":{"field":"g","type":"ordinal","scale":{"type":"point","domain":["hi","hm","mid","mn","neg"],"range":[114.5,143.5],"padding":0},"axis":null},"text":{"field":"b"}}},
{"data":{"name":"leg"},"transform":[{"filter":"datum.p==='E'"}],"mark":{"type":"text","align":"left","dx":16,"dy":3.5,"fontSize":8},"encoding":{"x":{"datum":2.23},"y":{"field":"g","type":"ordinal","scale":{"type":"point","domain":["hi","hm","mid","mn","neg"],"range":[114.5,143.5],"padding":0},"axis":null},"text":{"field":"s"}}},
{"data":{"name":"leg"},"transform":[{"filter":"datum.p==='E' && datum.g==='hi'"}],"mark":{"type":"text","align":"left","dx":26},"encoding":{"x":{"datum":2.23},"y":{"field":"g","type":"ordinal","scale":{"type":"point","domain":["hi","hm","mid","mn","neg"],"range":[114.5,143.5],"padding":0},"axis":null},"text":{"field":"e"}}},
{"data":{"name":"leg"},"transform":[{"filter":"datum.p==='E' && datum.g!=='hi'"}],"mark":{"type":"text","align":"left","dx":34},"encoding":{"x":{"datum":2.23},"y":{"field":"g","type":"ordinal","scale":{"type":"point","domain":["hi","hm","mid","mn","neg"],"range":[114.5,143.5],"padding":0},"axis":null},"text":{"field":"e"}}},
{"data":{"name":"pv"},"transform":[{"filter":"datum.p==='E'"}],"mark":{"type":"text","text":"}","fontSize":13,"align":"left"},"encoding":{"x":{"datum":10.5},"y":{"field":"k","type":"ordinal","scale":{"type":"point","domain":["hi","hm","mid","mn","neg"],"range":[114.5,143.5],"padding":0},"axis":null}}},
{"data":{"name":"pv"},"transform":[{"filter":"datum.p==='E'"}],"mark":{"type":"text","text":"P","fontStyle":"italic","fontSize":11.5,"align":"left","dx":6},"encoding":{"x":{"datum":10.5},"y":{"field":"k","type":"ordinal","scale":{"type":"point","domain":["hi","hm","mid","mn","neg"],"range":[114.5,143.5],"padding":0},"axis":null}}},
{"data":{"name":"pv"},"transform":[{"filter":"datum.p==='E'"}],"mark":{"type":"text","fontSize":11.5,"align":"left","dx":13.7},"encoding":{"x":{"datum":10.5},"y":{"field":"k","type":"ordinal","scale":{"type":"point","domain":["hi","hm","mid","mn","neg"],"range":[114.5,143.5],"padding":0},"axis":null},"text":{"field":"v"}}}
]}
]},
{"width":168,"height":62,"layer":[
{"data":{"name":"risk"},"transform":[{"filter":"datum.p==='E'"}],"mark":{"type":"text","fontSize":11.5},"encoding":{"x":{"field":"t","type":"quantitative","scale":{"domain":[0,15],"nice":false},"axis":null},"y":{"field":"g","type":"ordinal","scale":{"domain":["hdr","hi","mid","neg"]},"axis":null},"text":{"field":"n","type":"quantitative"}}},
{"data":{"values":[{}]},"mark":{"type":"text","text":"Number at risk","align":"left","dx":-54,"fontSize":12},"encoding":{"x":{"datum":0},"y":{"datum":"hdr","type":"ordinal","scale":{"domain":["hdr","hi","mid","neg"]},"axis":null}}},
{"data":{"name":"leg"},"transform":[{"filter":"datum.p==='E'"}],"mark":{"type":"text","align":"left","dx":-54,"fontSize":11.5},"encoding":{"x":{"datum":0},"y":{"field":"g","type":"ordinal","scale":{"domain":["hdr","hi","mid","neg"]},"axis":null},"text":{"field":"b"}}},
{"data":{"name":"leg"},"transform":[{"filter":"datum.p==='E'"}],"mark":{"type":"text","align":"left","dx":-38,"dy":3.5,"fontSize":8},"encoding":{"x":{"datum":0},"y":{"field":"g","type":"ordinal","scale":{"domain":["hdr","hi","mid","neg"]},"axis":null},"text":{"field":"s"}}}
]}
],"spacing":2.5},
{"vconcat":[
{"width":168,"height":168,"resolve":{"scale":{"y":"independent"}},"layer":[
{"layer":[
{"data":{"name":"km"},"transform":[{"filter":"datum.p==='F'"}],"mark":{"type":"line","interpolate":"step-after","strokeWidth":1.2},"encoding":{"x":{"field":"t","type":"quantitative","scale":{"domain":[0,15],"nice":false},"axis":{"values":[0,3,6,9,12,15],"format":"d","tickCount":10,"labelOverlap":false,"title":"Time (years)","labelPadding":1.5,"titlePadding":5}},"y":{"field":"s","type":"quantitative","scale":{"domain":[0,100],"nice":false},"axis":{"values":[0,20,40,60,80,100],"format":"d","tickCount":10,"labelOverlap":false,"title":"BCSS (%)"}},"color":{"field":"g","type":"nominal","scale":{"domain":["hi","mid","neg"],"range":["#e41f26","#3ab54a","#3b55a5"]},"legend":null}}},
{"data":{"name":"cens"},"transform":[{"filter":"datum.p==='F'"}],"mark":{"type":"tick"},"encoding":{"x":{"field":"t","type":"quantitative"},"y":{"field":"s","type":"quantitative"},"color":{"field":"g","type":"nominal","legend":null}}},
{"data":{"values":[{}]},"mark":{"type":"text","text":"F","fontWeight":"bold","fontSize":14,"align":"left","baseline":"alphabetic","dx":-54,"dy":-6},"encoding":{"x":{"datum":0},"y":{"datum":100}}},
{"data":{"values":[{}]},"mark":{"type":"text","text":"P","fontStyle":"italic","fontSize":11.5,"align":"left"},"encoding":{"x":{"datum":1.12},"y":{"datum":50.7}}},
{"data":{"values":[{}]},"mark":{"type":"text","text":"<0.001","fontSize":11.5,"align":"left","dx":7.7},"encoding":{"x":{"datum":1.12},"y":{"datum":50.7}}}
]},
{"layer":[
{"data":{"name":"leg"},"transform":[{"filter":"datum.p==='F'"}],"mark":{"type":"rule","strokeWidth":3.5},"encoding":{"x":{"datum":0.88},"x2":{"datum":1.92},"y":{"field":"g","type":"ordinal","scale":{"type":"point","domain":["hi","hm","mid","mn","neg"],"range":[116.5,144],"padding":0},"axis":null},"color":{"field":"g","type":"nominal","scale":{"domain":["hi","mid","neg"],"range":["#e41f26","#3ab54a","#3b55a5"]},"legend":null}}},
{"data":{"name":"leg"},"transform":[{"filter":"datum.p==='F'"}],"mark":{"type":"text","align":"left"},"encoding":{"x":{"datum":2.27},"y":{"field":"g","type":"ordinal","scale":{"type":"point","domain":["hi","hm","mid","mn","neg"],"range":[116.5,144],"padding":0},"axis":null},"text":{"field":"b"}}},
{"data":{"name":"leg"},"transform":[{"filter":"datum.p==='F'"}],"mark":{"type":"text","align":"left","dx":16,"dy":3.5,"fontSize":8},"encoding":{"x":{"datum":2.27},"y":{"field":"g","type":"ordinal","scale":{"type":"point","domain":["hi","hm","mid","mn","neg"],"range":[116.5,144],"padding":0},"axis":null},"text":{"field":"s"}}},
{"data":{"name":"leg"},"transform":[{"filter":"datum.p==='F' && datum.g==='hi'"}],"mark":{"type":"text","align":"left","dx":26},"encoding":{"x":{"datum":2.27},"y":{"field":"g","type":"ordinal","scale":{"type":"point","domain":["hi","hm","mid","mn","neg"],"range":[116.5,144],"padding":0},"axis":null},"text":{"field":"e"}}},
{"data":{"name":"leg"},"transform":[{"filter":"datum.p==='F' && datum.g!=='hi'"}],"mark":{"type":"text","align":"left","dx":34},"encoding":{"x":{"datum":2.27},"y":{"field":"g","type":"ordinal","scale":{"type":"point","domain":["hi","hm","mid","mn","neg"],"range":[116.5,144],"padding":0},"axis":null},"text":{"field":"e"}}},
{"data":{"name":"pv"},"transform":[{"filter":"datum.p==='F'"}],"mark":{"type":"text","text":"}","fontSize":13,"align":"left"},"encoding":{"x":{"datum":11.06},"y":{"field":"k","type":"ordinal","scale":{"type":"point","domain":["hi","hm","mid","mn","neg"],"range":[116.5,144],"padding":0},"axis":null}}},
{"data":{"name":"pv"},"transform":[{"filter":"datum.p==='F'"}],"mark":{"type":"text","text":"P","fontStyle":"italic","fontSize":11.5,"align":"left","dx":6},"encoding":{"x":{"datum":11.06},"y":{"field":"k","type":"ordinal","scale":{"type":"point","domain":["hi","hm","mid","mn","neg"],"range":[116.5,144],"padding":0},"axis":null}}},
{"data":{"name":"pv"},"transform":[{"filter":"datum.p==='F'"}],"mark":{"type":"text","fontSize":11.5,"align":"left","dx":13.7},"encoding":{"x":{"datum":11.06},"y":{"field":"k","type":"ordinal","scale":{"type":"point","domain":["hi","hm","mid","mn","neg"],"range":[116.5,144],"padding":0},"axis":null},"text":{"field":"v"}}}
]}
]},
{"width":168,"height":62,"layer":[
{"data":{"name":"risk"},"transform":[{"filter":"datum.p==='F'"}],"mark":{"type":"text","fontSize":11.5},"encoding":{"x":{"field":"t","type":"quantitative","scale":{"domain":[0,15],"nice":false},"axis":null},"y":{"field":"g","type":"ordinal","scale":{"domain":["hdr","hi","mid","neg"]},"axis":null},"text":{"field":"n","type":"quantitative"}}},
{"data":{"values":[{}]},"mark":{"type":"text","text":"Number at risk","align":"left","dx":-53,"fontSize":12},"encoding":{"x":{"datum":0},"y":{"datum":"hdr","type":"ordinal","scale":{"domain":["hdr","hi","mid","neg"]},"axis":null}}},
{"data":{"name":"leg"},"transform":[{"filter":"datum.p==='F'"}],"mark":{"type":"text","align":"left","dx":-53,"fontSize":11.5},"encoding":{"x":{"datum":0},"y":{"field":"g","type":"ordinal","scale":{"domain":["hdr","hi","mid","neg"]},"axis":null},"text":{"field":"b"}}},
{"data":{"name":"leg"},"transform":[{"filter":"datum.p==='F'"}],"mark":{"type":"text","align":"left","dx":-37,"dy":3.5,"fontSize":8},"encoding":{"x":{"datum":0},"y":{"field":"g","type":"ordinal","scale":{"type":"point","domain":["hdr","hi","mid","neg"]},"axis":null},"text":{"field":"s"}}}
]}
],"spacing":2.5}
],"spacing":19}
]
}
